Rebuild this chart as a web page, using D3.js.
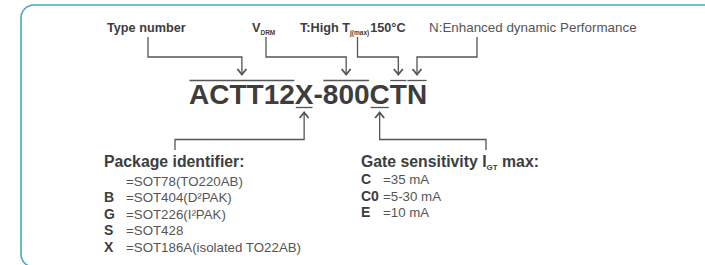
<!DOCTYPE html>
<html>
<head>
<meta charset="utf-8">
<script src="https://cdn.jsdelivr.net/npm/d3@7"></script>
<style>
  body { margin: 0; background: #fff; }
  svg text { font-family: "Liberation Sans", Arial, Helvetica, sans-serif; }
</style>
</head>
<body>
<div id="chart"></div>
<script>
// part number, split in the pieces that get a mark above or below
var partSegments = ["ACTT12", "X", "-", "800", "C", "T", "N"];
var segmentMarks = ["over", "under", "", "over", "under", "over", "over"];

// labels above the number: [text, style], and which piece they point to
var topLabels = [
    { parts: [["Type number", "b"]], target: 0 },
    { parts: [["V", "b"], ["DRM", "sub"]], target: 3 },
    { parts: [["T:High T", "b"], ["j(max)", "sub"], ["150°C", "b"]], target: 5 },
    { parts: [["N:Enhanced dynamic Performance", "n"]], target: 6 }
];

// lists below the number
var packageCodes = ["", "B", "G", "S", "X"];
var packageNames = ["=SOT78(TO220AB)", "=SOT404(D²PAK)", "=SOT226(I²PAK)", "=SOT428", "=SOT186A(isolated TO22AB)"];
var gateCodes = ["C", "C0", "E"];
var gateValues = ["=35 mA", "=5-30 mA", "=10 mA"];

var svg = d3.select('#chart')
    .append('svg')
    .attr('width', 705)
    .attr('height', 265);

var boldColor = "#3d3d3d";
var textColor = "#555";
var lineColor = "#555";

// frame
svg.append("rect")
    .attr("x", 21)
    .attr("y", 5)
    .attr("width", 720)
    .attr("height", 262)
    .attr("rx", 13)
    .attr("fill", "none")
    .attr("stroke", "#45a9c4")
    .attr("stroke-width", 1.6);

// big part number
var codeX = 189, codeY = 104;
var code = svg.append("text")
    .attr("x", codeX)
    .attr("y", codeY)
    .attr("font-size", 28)
    .attr("font-weight", "bold")
    .attr("fill", boldColor);

var spans = code.selectAll("tspan")
    .data(partSegments)
    .enter().append("tspan")
    .text(function (d) { return d; });

// measure each piece to place the bars and arrows
var segX = [];
var cur = codeX;
spans.each(function (d, i) {
    var w = this.getComputedTextLength();
    segX.push({ x0: cur, x1: cur + w, mid: cur + w / 2 });
    cur += w;
});

segmentMarks.forEach(function (m, i) {
    if (!m) return;
    var y = m == "over" ? 80.5 : 107.5;
    var pad = m == "over" ? 0.5 : 1;
    svg.append("line")
        .attr("x1", segX[i].x0 + pad)
        .attr("x2", segX[i].x1 - pad)
        .attr("y1", y)
        .attr("y2", y)
        .attr("stroke", lineColor)
        .attr("stroke-width", 1.3);
});

function arrowHead(x, y, dir) {
    // dir 1 = pointing down, -1 = pointing up
    svg.append("path")
        .attr("d", "M" + (x - 4.5) + "," + (y - dir * 5.5) + "L" + x + "," + y + "L" + (x + 4.5) + "," + (y - dir * 5.5))
        .attr("fill", "none")
        .attr("stroke", lineColor)
        .attr("stroke-width", 1.8);
}

// labels on top
var labelX = [107, 252, 300, 429];
var lineFromX = [148, 266, 357.5, 477];
var labelY = 32;

topLabels.forEach(function (lab, i) {
    var t = svg.append("text")
        .attr("x", labelX[i])
        .attr("y", labelY)
        .attr("fill", boldColor);
    lab.parts.forEach(function (p, j) {
        var s = t.append("tspan").text(p[0]);
        if (p[1] == "b") {
            s.attr("font-weight", "bold").attr("font-size", 12.7);
        } else if (p[1] == "sub") {
            s.attr("font-weight", "bold").attr("font-size", 6.5).attr("dy", 3);
        } else {
            s.attr("font-size", 13.4).attr("fill", textColor);
        }
        if (j > 0 && lab.parts[j - 1][1] == "sub") s.attr("dy", -3).attr("dx", 1);
    });

    var tx = segX[lab.target].mid;
    svg.append("path")
        .attr("d", "M" + lineFromX[i] + ",37V57H" + tx + "V74")
        .attr("fill", "none")
        .attr("stroke", lineColor)
        .attr("stroke-width", 1.3);
    arrowHead(tx, 74.5, 1);
});

// arrows under the number
var bottomPointers = [
    { target: 1, toX: 175 },
    { target: 4, toX: 486 }
];
bottomPointers.forEach(function (p) {
    var sx = segX[p.target].mid;
    svg.append("path")
        .attr("d", "M" + sx + ",113V139.5H" + p.toX + "V150")
        .attr("fill", "none")
        .attr("stroke", lineColor)
        .attr("stroke-width", 1.3);
    arrowHead(sx, 112.5, -1);
});

// package identifier list
var headY = 167;
svg.append("text")
    .attr("x", 104)
    .attr("y", headY)
    .attr("font-size", 15.8)
    .attr("font-weight", "bold")
    .attr("fill", boldColor)
    .text("Package identifier:");

var rowStep = 16.5;
packageCodes.forEach(function (c, i) {
    var y = 185.5 + i * rowStep;
    svg.append("text")
        .attr("x", 104)
        .attr("y", y)
        .attr("font-size", 14)
        .attr("font-weight", "bold")
        .attr("fill", boldColor)
        .text(c);
    svg.append("text")
        .attr("x", 126)
        .attr("y", y)
        .attr("font-size", 13.3)
        .attr("fill", textColor)
        .text(packageNames[i]);
});

// gate sensitivity list
var gate = svg.append("text")
    .attr("x", 361)
    .attr("y", headY)
    .attr("font-size", 15.8)
    .attr("font-weight", "bold")
    .attr("fill", boldColor);
gate.append("tspan").text("Gate sensitivity I");
gate.append("tspan").attr("font-size", 8).attr("dy", 3).text("GT");
gate.append("tspan").attr("dy", -3).text(" max:");

gateCodes.forEach(function (c, i) {
    var y = 184 + i * 16.7;
    svg.append("text")
        .attr("x", 361)
        .attr("y", y)
        .attr("font-size", 14)
        .attr("font-weight", "bold")
        .attr("fill", boldColor)
        .text(c);
    svg.append("text")
        .attr("x", 383)
        .attr("y", y)
        .attr("font-size", 13.3)
        .attr("fill", textColor)
        .text(gateValues[i]);
});
</script>
</body>
</html>
